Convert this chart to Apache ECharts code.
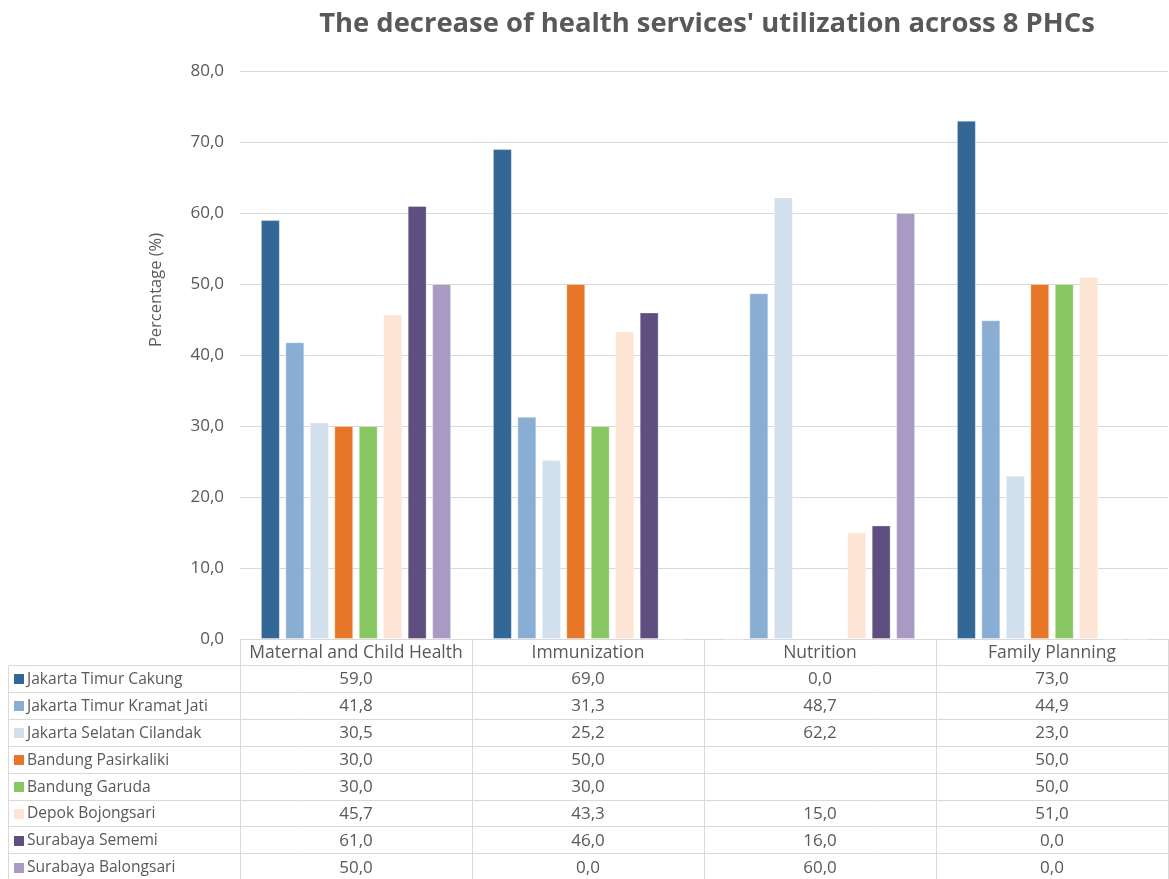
<!DOCTYPE html>
<html>
<head>
<meta charset="utf-8">
<script src="https://cdn.jsdelivr.net/npm/echarts@6/dist/echarts.min.js"></script>
<style>
html,body{margin:0;padding:0;background:#fff;}
#chart{width:1169px;height:879px;}
</style>
</head>
<body>
<div id="chart"></div>
<script>
const categories = ['Maternal and Child Health', 'Immunization', 'Nutrition', 'Family Planning'];
const siteNames = ['Jakarta Timur Cakung', 'Jakarta Timur Kramat Jati', 'Jakarta Selatan Cilandak', 'Bandung Pasirkaliki', 'Bandung Garuda', 'Depok Bojongsari', 'Surabaya Sememi', 'Surabaya Balongsari'];
const cakung      = [59.0, 69.0, 0.0, 73.0];
const kramatJati  = [41.8, 31.3, 48.7, 44.9];
const cilandak    = [30.5, 25.2, 62.2, 23.0];
const pasirkaliki = [30.0, 50.0, null, 50.0];
const garuda      = [30.0, 30.0, null, 50.0];
const bojongsari  = [45.7, 43.3, 15.0, 51.0];
const sememi      = [61.0, 46.0, 16.0, 0.0];
const balongsari  = [50.0, 0.0, 60.0, 0.0];
const seriesValues = [cakung, kramatJati, cilandak, pasirkaliki, garuda, bojongsari, sememi, balongsari];
const siteColors = ['#336795', '#8AAED3', '#D2E0ED', '#E87628', '#88C662', '#FDE4D4', '#5F4E80', '#A89AC2'];
const yMin = 0, yMax = 80, yInterval = 10;

const FONT = "'Open Sans', 'Noto Sans', sans-serif";
const TXT = '#595959';
const GRIDC = '#d9d9d9';
const fmt = v => (v === null || v === undefined) ? '' : v.toFixed(1).replace('.', ',');

const chart = echarts.init(document.getElementById('chart'), null, {renderer: 'canvas'});

const option = {
  animation: false,
  backgroundColor: '#fff',
  textStyle: {fontFamily: FONT},
  title: {
    text: "The decrease of health services' utilization across 8 PHCs",
    left: 702, top: 6, textAlign: 'center',
    textStyle: {fontFamily: FONT, fontSize: 27.4, fontWeight: 'bold', color: TXT}
  },
  grid: {left: 240, right: 1, top: 71, bottom: 240, containLabel: false},
  xAxis: {
    type: 'category', data: categories,
    axisLine: {show: true, lineStyle: {color: GRIDC, width: 1}},
    axisTick: {show: false},
    axisLabel: {show: false}
  },
  yAxis: {
    type: 'value', min: yMin, max: yMax, interval: yInterval,
    axisLine: {show: false}, axisTick: {show: false},
    splitLine: {lineStyle: {color: GRIDC, width: 1}},
    axisLabel: {formatter: v => fmt(v), color: TXT, fontSize: 17, fontFamily: FONT, margin: 16}
  },
  series: seriesValues.map((vals, i) => ({
    name: siteNames[i], type: 'bar', data: vals,
    barGap: '29%', barCategoryGap: '18%',
    itemStyle: {color: siteColors[i], borderColor: 'rgba(255,255,255,0.35)', borderWidth: 1}
  }))
};
chart.setOption(option);

// Build the data table below the plot from the same arrays, positioned via the chart's scales.
const centers = categories.map((c, i) => chart.convertToPixel({xAxisIndex: 0}, i));
const band = centers[1] - centers[0];
const yTop = Math.round(chart.convertToPixel({yAxisIndex: 0}, yMin));
const headerH = 26;
const rowH = 26.9;
const labelLeft = 8;
const bounds = centers.map(c => c - band / 2).concat([centers[centers.length - 1] + band / 2]);
const tableBottom = yTop + headerH + rowH * siteNames.length + 2;
const px = v => Math.round(v) + 0.5;

const g = [];
bounds.forEach(b => {
  g.push({type: 'line', silent: true, shape: {x1: px(b), y1: yTop, x2: px(b), y2: tableBottom}, style: {stroke: GRIDC, lineWidth: 1}});
});
g.push({type: 'line', silent: true, shape: {x1: px(labelLeft), y1: px(yTop + headerH), x2: px(labelLeft), y2: tableBottom}, style: {stroke: GRIDC, lineWidth: 1}});
for (let r = 0; r <= siteNames.length; r++) {
  const y = px(yTop + headerH + rowH * r);
  g.push({type: 'line', silent: true, shape: {x1: px(labelLeft), y1: y, x2: px(bounds[bounds.length - 1]), y2: y}, style: {stroke: GRIDC, lineWidth: 1}});
}
categories.forEach((c, i) => {
  g.push({type: 'text', silent: true, x: centers[i], y: yTop + headerH / 2 + 1,
    style: {text: c, fill: TXT, font: '17.5px ' + FONT, align: 'center', verticalAlign: 'middle'}});
});
siteNames.forEach((name, r) => {
  const cy = yTop + headerH + rowH * r + rowH / 2 + 1;
  g.push({type: 'rect', silent: true, shape: {x: 14, y: Math.round(cy - 5), width: 10, height: 10}, style: {fill: siteColors[r]}});
  g.push({type: 'text', silent: true, x: 27, y: cy,
    style: {text: name, fill: TXT, font: '15.6px ' + FONT, align: 'left', verticalAlign: 'middle'}});
  seriesValues[r].forEach((v, i) => {
    g.push({type: 'text', silent: true, x: centers[i], y: cy,
      style: {text: fmt(v), fill: TXT, font: '17px ' + FONT, align: 'center', verticalAlign: 'middle'}});
  });
});
g.push({type: 'text', silent: true, x: 156, y: 290, rotation: Math.PI / 2,
  style: {text: 'Percentage (%)', fill: TXT, font: '16.5px ' + FONT, align: 'center', verticalAlign: 'middle'}});

chart.setOption({graphic: g});
</script>
</body>
</html>
